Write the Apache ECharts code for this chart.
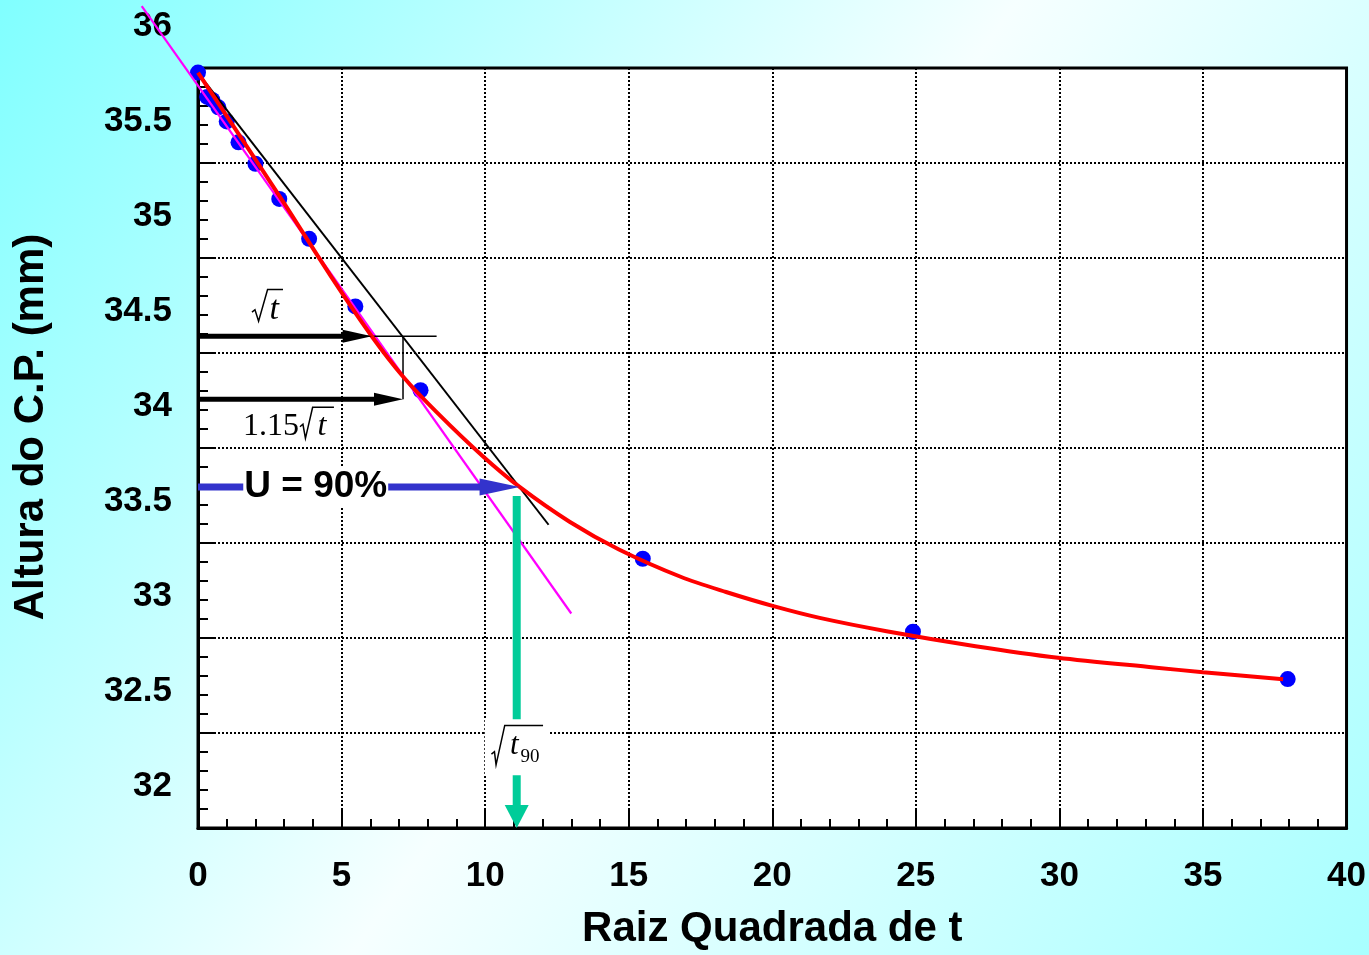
<!DOCTYPE html>
<html><head><meta charset="utf-8">
<script src="https://cdn.jsdelivr.net/npm/echarts@6/dist/echarts.min.js"></script>
<style>html,body{margin:0;padding:0;overflow:hidden;} #c{width:1369px;height:955px;}</style>
</head><body><div id="c"></div>
<script>
// ---- measured data (square root of time vs specimen height) ----
const sqrtT  = [0, 0.32, 0.5, 0.71, 1, 1.41, 2, 2.83, 3.87, 5.48, 7.75, 15.49, 24.9, 37.95];
const height = [35.976, 35.848, 35.832, 35.793, 35.719, 35.609, 35.496, 35.311, 35.101, 34.745, 34.304, 33.417, 33.033, 32.784];
// ---- fitted curve ----
const fitX = [0, 2.85, 4.70, 6.05, 7.13, 8.31, 9.91, 11.2, 12.94, 14.66, 16.83, 18.39, 20.01, 21.65, 23.98, 27.08, 29.95, 33.29, 35.00, 37.79];
const fitY = [35.976, 35.323, 34.887, 34.588, 34.378, 34.189, 33.958, 33.795, 33.612, 33.466, 33.321, 33.242, 33.169, 33.106, 33.036, 32.957, 32.896, 32.845, 32.820, 32.783];
// ---- construction lines ----
const initLineX = [-1.96, 13.0];
const initLineY = [36.326, 33.129];
const line115X = [0, 12.21];
const line115Y = [35.974, 33.596];
const hLineX = [0, 8.31];
const hLineY = [34.588, 34.588];
const vLineX = [7.14, 7.14];
const vLineY = [34.588, 34.257];
// ---- arrows ----
const arrowFrom = [[0, 34.588], [0, 34.257], [0, 33.795], [11.1, 33.748]];
const arrowTo   = [[6.05, 34.588], [7.14, 34.257], [11.2, 33.795], [11.1, 32.0]];
// ---- annotation labels ----
const labelAt = [[1.88, 34.72], [3.55, 34.117], [4.10, 33.795], [10.22, 32.394]];
const labelText = ['t', '1.15', 'U = 90%', 't', '90'];

const SANS = "'Liberation Sans', Arial, sans-serif";
const SERIF = "'Liberation Serif', 'Times New Roman', serif";

const arrowStyle = [
  {color: '#000000', w: 5, hl: 29, hw: 13},
  {color: '#000000', w: 5, hl: 29, hw: 13},
  {color: '#3333cc', w: 7, hl: 40, hw: 17},
  {color: '#00cc99', w: 8, hl: 23, hw: 24}
];

function zip(a, b) { return a.map((v, i) => [v, b[i]]); }

function renderSegment(params, api) {
  const p1 = api.coord([api.value(0), api.value(1)]);
  const p2 = api.coord([api.value(2), api.value(3)]);
  return {type: 'line', shape: {x1: p1[0], y1: p1[1], x2: p2[0], y2: p2[1]},
          style: {stroke: '#ff00ff', lineWidth: 2.2}};
}

function renderArrow(params, api) {
  const i = params.dataIndex;
  const s = arrowStyle[i];
  const p1 = api.coord([api.value(0), api.value(1)]);
  const p2 = api.coord([api.value(2), api.value(3)]);
  const dx = p2[0] - p1[0], dy = p2[1] - p1[1];
  const L = Math.sqrt(dx * dx + dy * dy);
  const ux = dx / L, uy = dy / L, nx = -uy, ny = ux;
  const bx = p2[0] - ux * s.hl, by = p2[1] - uy * s.hl;
  return {
    type: 'group',
    children: [
      {type: 'line', shape: {x1: p1[0], y1: p1[1], x2: bx + ux * 2, y2: by + uy * 2},
       style: {stroke: s.color, lineWidth: s.w, lineCap: 'butt'}},
      {type: 'polygon', shape: {points: [[p2[0], p2[1]], [bx + nx * s.hw / 2, by + ny * s.hw / 2], [bx - nx * s.hw / 2, by - ny * s.hw / 2]]},
       style: {fill: s.color}}
    ]
  };
}

function radical(b, pts) {
  return {type: 'polyline', shape: {points: pts.map(p => [b[0] + p[0], b[1] + p[1]])},
          style: {stroke: '#000', lineWidth: 1.5, fill: null, lineJoin: 'miter'}};
}
function txt(x, y, text, font, align) {
  return {type: 'text', style: {x: x, y: y, text: text, font: font, fill: '#000', align: align || 'left', verticalAlign: 'middle'}};
}

function renderLabel(params, api) {
  const i = params.dataIndex;
  const b = api.coord([api.value(0), api.value(1)]);
  let ch = [];
  if (i === 0) {
    ch.push(radical(b, [[0, 1], [3, -1.5], [6.6, 10], [15.6, -21.7], [31, -21.7]]));
    ch.push(txt(b[0] + 17.5, b[1] - 1, labelText[0], 'italic 34px ' + SERIF));
  } else if (i === 1) {
    ch.push(txt(b[0] - 1, b[1] + 1.3, labelText[1], '32px ' + SERIF, 'right'));
    ch.push(radical(b, [[0, 1], [3, -1.5], [5.5, 12.6], [12.7, -18.4], [34, -18.4]]));
    ch.push(txt(b[0] + 17.5, b[1] + 1.3, labelText[0], 'italic 32px ' + SERIF));
  } else if (i === 2) {
    ch.push({type: 'text', style: {x: b[0], y: b[1], text: labelText[2], font: 'bold 37px ' + SANS, fill: '#000',
             align: 'center', verticalAlign: 'middle', backgroundColor: '#ffffff', padding: [2, 1, 0, 1]}});
  } else {
    ch.push({type: 'rect', shape: {x: b[0] - 6.7, y: b[1] - 34, width: 65, height: 56}, style: {fill: '#ffffff'}});
    ch.push(radical(b, [[0, 1], [3, -1.5], [4.6, 11.7], [13.3, -27.7], [51.6, -27.7]]));
    ch.push(txt(b[0] + 18.5, b[1] - 7, labelText[3], 'italic 31px ' + SERIF));
    ch.push(txt(b[0] + 29, b[1] + 4, labelText[4], '19px ' + SERIF));
  }
  return {type: 'group', children: ch};
}

const chart = echarts.init(document.getElementById('c'));
chart.setOption({
  animation: false,
  backgroundColor: {type: 'linear', x: 0, y: 0, x2: 1, y2: 1,
    colorStops: [{offset: 0, color: '#80ffff'}, {offset: 0.5, color: '#f6ffff'}, {offset: 1, color: '#a8ffff'}]},
  grid: {left: 198, right: 21, top: 68, bottom: 125, show: true, backgroundColor: '#ffffff', borderColor: '#000', borderWidth: 3},
  xAxis: {
    type: 'value', min: 0, max: 40, interval: 5,
    name: 'Raiz Quadrada de t', nameLocation: 'middle', nameGap: 80,
    nameTextStyle: {fontFamily: SANS, fontWeight: 'bold', fontSize: 42, color: '#000'},
    axisLine: {show: true, lineStyle: {color: '#000', width: 3}},
    axisTick: {show: true, inside: true, length: 18, lineStyle: {color: '#000', width: 2}},
    minorTick: {show: true, splitNumber: 5, length: 9, lineStyle: {color: '#000', width: 2}},
    axisLabel: {fontFamily: SANS, fontWeight: 'bold', fontSize: 35, color: '#000', margin: 31},
    splitLine: {show: true, lineStyle: {color: '#000', width: 2, type: [2, 2]}}
  },
  yAxis: {
    type: 'value', min: 32, max: 36, interval: 0.5,
    name: 'Altura do C.P. (mm)', nameLocation: 'middle', nameGap: 146,
    nameTextStyle: {fontFamily: SANS, fontWeight: 'bold', fontSize: 42, color: '#000', padding: [0, 0, 0, 42]},
    axisLine: {show: true, lineStyle: {color: '#000', width: 3}},
    axisTick: {show: true, inside: true, length: 18, lineStyle: {color: '#000', width: 2}},
    minorTick: {show: true, splitNumber: 5, length: 10, lineStyle: {color: '#000', width: 2}},
    axisLabel: {margin: 26, formatter: v => '{v|' + v + '}\n{s| }',
      rich: {v: {fontFamily: SANS, fontWeight: 'bold', fontSize: 35, color: '#000', lineHeight: 40},
             s: {fontSize: 10, lineHeight: 84}}},
    splitLine: {show: true, lineStyle: {color: '#000', width: 2, type: [2, 2]}}
  },
  series: [
    {type: 'scatter', name: 'Leituras', data: zip(sqrtT, height), symbolSize: 16,
     itemStyle: {color: '#0000ff', opacity: 1}, z: 2, clip: false},
    {type: 'custom', name: 'Reta inicial', renderItem: renderSegment, z: 3, clip: false,
     data: [[initLineX[0], initLineY[0], initLineX[1], initLineY[1]]]},
    {type: 'line', name: 'Reta 1.15', data: zip(line115X, line115Y), showSymbol: false, clip: false,
     lineStyle: {color: '#000', width: 2}, z: 3},
    {type: 'line', name: 'h', data: zip(hLineX, hLineY), showSymbol: false, lineStyle: {color: '#000', width: 1.5}, z: 3},
    {type: 'line', name: 'v', data: zip(vLineX, vLineY), showSymbol: false, lineStyle: {color: '#000', width: 1.5}, z: 3},
    {type: 'line', name: 'Curva', data: zip(fitX, fitY), showSymbol: false, smooth: 0.3, clip: false,
     lineStyle: {color: '#ff0000', width: 4}, z: 4},
    {type: 'custom', name: 'setas', renderItem: renderArrow, z: 5, clip: false,
     data: arrowFrom.map((f, i) => [f[0], f[1], arrowTo[i][0], arrowTo[i][1]])},
    {type: 'custom', name: 'rotulos', renderItem: renderLabel, z: 6, clip: false,
     data: labelAt.map(p => [p[0], p[1]])}
  ]
});
</script></body></html>
